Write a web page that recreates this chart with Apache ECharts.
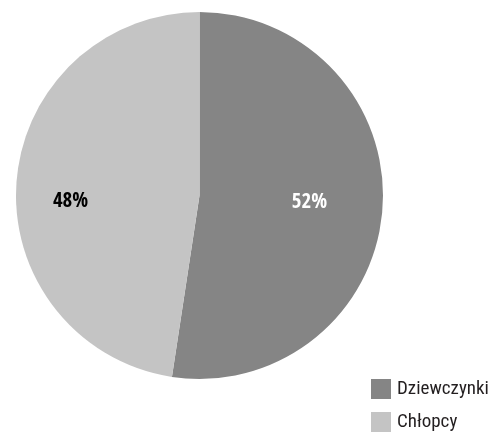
<!DOCTYPE html>
<html><head><meta charset="utf-8">
<script src="https://cdn.jsdelivr.net/npm/echarts@6/dist/echarts.min.js"></script>
<style>html,body{margin:0;padding:0;background:#fff}#c{width:490px;height:432px}</style>
</head><body><div id="c"></div>
<script>
const categories = ['Dziewczynki', 'Chłopcy'];
const values = [52.4, 47.6];
const colors = ['#858585', '#c4c4c4'];
const labelColors = ['#ffffff', '#000000'];
const labelOffsets = [[-3, -2], [-16, 15]];
const FONT = "'Open Sans Condensed','Roboto Condensed',sans-serif";
const LEGEND_FONT = "'Roboto Condensed','Open Sans Condensed',sans-serif";

const data = categories.map((n, i) => ({name: n, value: values[i], itemStyle: {color: colors[i]}}));
const labelData = categories.map((n, i) => ({name: n, value: values[i],
  label: {color: labelColors[i], offset: labelOffsets[i]}}));

const chart = echarts.init(document.getElementById('c'), null, {renderer: 'canvas'});
chart.setOption({
  animation: false,
  legend: {
    orient: 'vertical', left: 371, bottom: 0, padding: 0,
    itemWidth: 20, itemHeight: 20, itemGap: 13,
    icon: 'rect',
    textStyle: {fontFamily: LEGEND_FONT, fontSize: 19, lineHeight: 20, color: '#231f20', padding: [0, 0, 0, 1]},
    data: categories
  },
  series: [{
    type: 'pie', center: [199.5, 195.5], radius: 183.5,
    startAngle: 90, clockwise: true,
    label: {show: false}, labelLine: {show: false},
    emphasis: {disabled: true}, silent: true,
    data: data
  }, {
    type: 'pie', center: [199.5, 195.5], radius: [37, 183.5],
    startAngle: 90, clockwise: true,
    itemStyle: {color: 'rgba(0,0,0,0)'},
    label: {show: true, position: 'inside', fontFamily: FONT, fontWeight: 'bold', fontSize: 21,
      formatter: p => Math.round(p.value) + '%'},
    labelLine: {show: false},
    emphasis: {disabled: true}, silent: true,
    legendHoverLink: false,
    data: labelData
  }]
});
</script></body></html>
